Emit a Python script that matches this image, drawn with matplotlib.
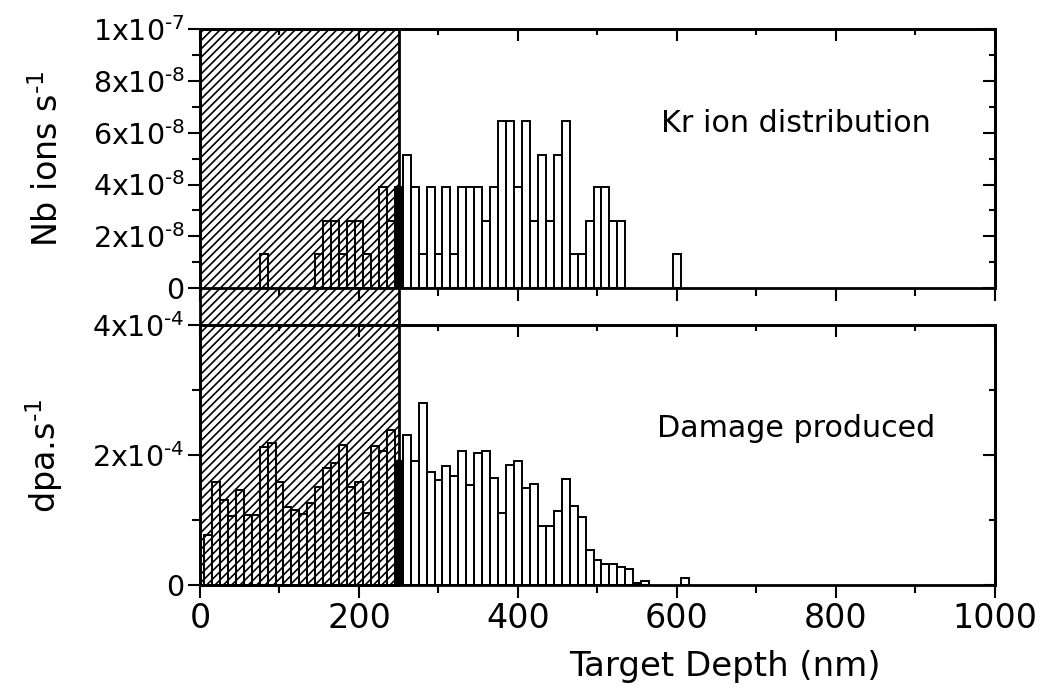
import matplotlib
matplotlib.use('Agg')
import matplotlib.pyplot as plt
import matplotlib.transforms as mtransforms
from matplotlib.patches import Rectangle
from matplotlib.ticker import MultipleLocator

plt.rcParams['font.family'] = ['DejaVu Sans']
plt.rcParams['mathtext.default'] = 'regular'
plt.rcParams['hatch.linewidth'] = 1.2

# ---- data (bin centre in nm, 10 nm bins) ----
ion_depth = [80, 150, 160, 170, 180, 190, 200, 210, 230, 240,
             250, 260, 270, 280, 290, 300, 310, 320, 330, 340,
             350, 360, 370, 380, 390, 400, 410, 420, 430, 440,
             450, 460, 470, 480, 490, 500, 510, 520, 530, 600]
ion_rate = [1.3e-8, 1.3e-8, 2.6e-8, 2.6e-8, 1.3e-8, 2.6e-8, 2.6e-8, 1.3e-8, 3.9e-8, 2.6e-8,
            3.9e-8, 5.15e-8, 3.9e-8, 1.3e-8, 3.9e-8, 1.3e-8, 3.9e-8, 1.3e-8, 3.9e-8, 3.9e-8,
            3.9e-8, 2.6e-8, 3.9e-8, 6.45e-8, 6.45e-8, 3.9e-8, 6.45e-8, 2.6e-8, 5.15e-8, 2.6e-8,
            5.15e-8, 6.45e-8, 1.3e-8, 1.3e-8, 2.6e-8, 3.9e-8, 3.9e-8, 2.6e-8, 2.6e-8, 1.3e-8]

dpa_depth = [10, 20, 30, 40, 50, 60, 70, 80, 90, 100,
             110, 120, 130, 140, 150, 160, 170, 180, 190, 200,
             210, 220, 230, 240, 250, 260, 270, 280, 290, 300,
             310, 320, 330, 340, 350, 360, 370, 380, 390, 400,
             410, 420, 430, 440, 450, 460, 470, 480, 490, 500,
             510, 520, 530, 540, 550, 560, 610]
dpa_rate = [0.78e-4, 1.59e-4, 1.32e-4, 1.07e-4, 1.47e-4, 1.09e-4, 1.09e-4, 2.13e-4, 2.19e-4, 1.59e-4,
            1.20e-4, 1.16e-4, 1.10e-4, 1.27e-4, 1.52e-4, 1.81e-4, 1.89e-4, 2.16e-4, 1.52e-4, 1.59e-4,
            1.12e-4, 2.15e-4, 2.07e-4, 2.39e-4, 1.92e-4, 2.31e-4, 1.92e-4, 2.81e-4, 1.74e-4, 1.62e-4,
            1.84e-4, 1.69e-4, 2.07e-4, 1.55e-4, 2.04e-4, 2.07e-4, 1.65e-4, 1.12e-4, 1.86e-4, 1.92e-4,
            1.50e-4, 1.56e-4, 0.91e-4, 0.92e-4, 1.15e-4, 1.64e-4, 1.23e-4, 1.05e-4, 0.55e-4, 0.39e-4,
            0.33e-4, 0.33e-4, 0.28e-4, 0.26e-4, 0.04e-4, 0.07e-4, 0.11e-4]

hatch_end = 250   # nm, hatched zone
ion_yticks = [0, 2e-8, 4e-8, 6e-8, 8e-8, 1e-7]
ion_ylabels = ['0', '$2x10^{\u2010 8}$', '$4x10^{\u2010 8}$', '$6x10^{\u2010 8}$',
               '$8x10^{\u2010 8}$', '$1x10^{\u2010 7}$']
dpa_yticks = [0, 2e-4, 4e-4]
dpa_ylabels = ['0', '$2x10^{\u2010 4}$', '$4x10^{\u2010 4}$']
xticks = [0, 200, 400, 600, 800, 1000]

fig = plt.figure(figsize=(10.41, 6.98), dpi=100)
ax1 = fig.add_axes([0.1921, 0.5874, 0.7637, 0.3706])
ax2 = fig.add_axes([0.1921, 0.1612, 0.7637, 0.3725])


def face(depths):
    # bar sitting on the hatch edge shows up solid black
    return ['black' if d == hatch_end else 'none' for d in depths]


def style(ax, yticks, ylabels, ymin_step):
    ax.set_facecolor('none')
    ax.set_xlim(0, 1000)
    ax.set_xticks(xticks)
    ax.xaxis.set_minor_locator(MultipleLocator(100))
    ax.set_yticks(yticks)
    ax.set_yticklabels(ylabels)
    ax.yaxis.set_minor_locator(MultipleLocator(ymin_step))
    ax.tick_params(which='both', direction='out', top=False, right=False, width=1.5)
    ax.tick_params(which='major', length=9)
    ax.tick_params(which='minor', length=5.5)
    ax.tick_params(axis='y', labelsize=20.5, pad=2)
    ax.tick_params(axis='x', labelsize=24, pad=3)
    for s in ax.spines.values():
        s.set_linewidth(2)
    top = ax.secondary_xaxis('top')
    top.set_xticks(xticks)
    top.xaxis.set_minor_locator(MultipleLocator(100))
    top.tick_params(which='both', direction='in', labeltop=False, width=1.5)
    top.tick_params(which='major', length=8.5)
    top.tick_params(which='minor', length=4)
    top.spines['top'].set_linewidth(2)
    right = ax.secondary_yaxis('right')
    right.set_yticks(yticks)
    right.yaxis.set_minor_locator(MultipleLocator(ymin_step))
    right.tick_params(which='both', direction='in', labelright=False, width=1.5)
    right.tick_params(which='major', length=8.5)
    right.tick_params(which='minor', length=4)
    right.spines['right'].set_linewidth(2)


ax1.bar(ion_depth, ion_rate, width=10, facecolor=face(ion_depth),
        edgecolor='black', linewidth=1.4, zorder=3)
ax1.set_ylim(0, 1e-7)
style(ax1, ion_yticks, ion_ylabels, 1e-8)
ax1.tick_params(axis='x', labelbottom=False)
ax1.set_ylabel('Nb ions s$^{\u2010 1}$', fontsize=24)
ax1.yaxis.set_label_coords(-0.170, 0.5)
ax1.text(750, 6.36e-8, 'Kr ion distribution', ha='center', va='center', fontsize=21.7)

ax2.bar(dpa_depth, dpa_rate, width=10, facecolor=face(dpa_depth),
        edgecolor='black', linewidth=1.4, zorder=3)
ax2.set_ylim(0, 4e-4)
style(ax2, dpa_yticks, dpa_ylabels, 1e-4)
ax2.set_ylabel('dpa.s$^{\u2010 1}$', fontsize=24)
ax2.yaxis.set_label_coords(-0.170, 0.5)
ax2.set_xlabel('Target Depth (nm)', fontsize=24.5)
ax2.xaxis.set_label_coords(0.66, -0.25)
ax2.text(750, 2.42e-4, 'Damage produced', ha='center', va='center', fontsize=21.7)

# hatched zone running through both panels and the gap between them
trans = mtransforms.blended_transform_factory(ax2.transData, fig.transFigure)
y0 = ax2.get_position().y0
y1 = ax1.get_position().y1
fig.add_artist(Rectangle((0, y0), hatch_end, y1 - y0, transform=trans,
                         facecolor='white', edgecolor='black', hatch='////',
                         linewidth=2, zorder=-1))

fig.savefig('out.png', dpi=100)
